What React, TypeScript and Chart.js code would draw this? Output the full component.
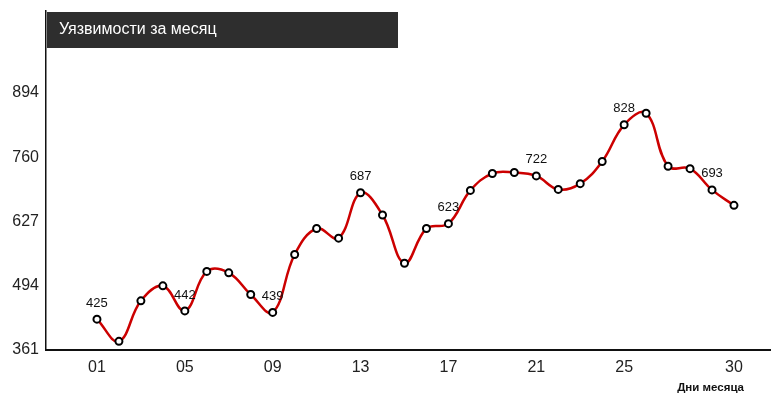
import React, { useEffect, useRef } from "react";
import { Chart, registerables } from "chart.js";

Chart.register(...registerables);

const days: number[] = [1,2,3,4,5,6,7,8,9,10,11,12,13,14,15,16,17,18,19,20,21,22,23,24,25,26,27,28,29,30];
const values: number[] = [425,379,463,494,442,524,521,476,439,559,613,593,687,641,541,613,623,692,727,729,722,694,706,752,828,852,742,737,693,661];
const labeledDays: number[] = [1,5,9,13,17,21,25,29];
const yTicks: number[] = [361,494,627,760,894];
const xTicks: number[] = [1,5,9,13,17,21,25,30];
const chartTitle = "Уязвимости за месяц";
const xAxisTitle = "Дни месяца";

const FONT = "Arial, 'Liberation Sans', sans-serif";

const decorPlugin = {
  id: "decor",
  afterDraw(chart: any) {
    const { ctx, chartArea } = chart;
    const meta = chart.getDatasetMeta(0);
    ctx.save();
    // point value labels
    ctx.font = `13px ${FONT}`;
    ctx.fillStyle = "#111";
    ctx.textAlign = "center";
    ctx.textBaseline = "middle";
    meta.data.forEach((el: any, i: number) => {
      if (labeledDays.includes(days[i])) {
        ctx.fillText(String(values[i]), el.x, el.y - 16);
      }
    });
    // title box
    const bx = chartArea.left + 1;
    const by = chartArea.top + 1;
    ctx.fillStyle = "#2e2e2e";
    ctx.fillRect(bx, by, 351, 36);
    ctx.fillStyle = "#ffffff";
    ctx.font = `16px ${FONT}`;
    ctx.textAlign = "left";
    ctx.textBaseline = "middle";
    ctx.fillText(chartTitle, bx + 12, by + 18);
    // x axis title
    ctx.fillStyle = "#111";
    ctx.font = `bold 11.5px ${FONT}`;
    ctx.textAlign = "right";
    ctx.fillText(xAxisTitle, chartArea.right - 26, 388);
    ctx.restore();
  },
};

export default function App() {
  const ref = useRef<HTMLCanvasElement | null>(null);
  useEffect(() => {
    if (!ref.current) return;
    const chart = new Chart(ref.current, {
      type: "line",
      data: {
        datasets: [
          {
            data: days.map((d, i) => ({ x: d, y: values[i] })),
            borderColor: "#cc0000",
            borderWidth: 2.5,
            tension: 0.4,
            pointRadius: 3.5,
            pointBorderWidth: 2,
            pointBackgroundColor: "#ffffff",
            pointBorderColor: "#000000",
            fill: false,
          },
        ],
      },
      options: {
        animation: false,
        responsive: false,
        maintainAspectRatio: false,
        layout: { autoPadding: false, padding: { top: 11, right: 1, left: 0, bottom: 0 } },
        plugins: { legend: { display: false }, tooltip: { enabled: false }, title: { display: false } },
        scales: {
          x: {
            type: "linear",
            min: -1.32,
            max: 31.64,
            grid: { display: false, drawTicks: false },
            border: { display: true, color: "#111", width: 2 },
            afterBuildTicks: (s: any) => {
              s.ticks = xTicks.map((v) => ({ value: v }));
            },
            afterFit: (s: any) => {
              s.height = 45;
              s.paddingLeft = 0;
              s.paddingRight = 0;
            },
            ticks: {
              autoSkip: false,
              maxRotation: 0,
              padding: 8,
              color: "#222",
              font: { family: FONT, size: 16 },
              callback: (v: any) => String(v).padStart(2, "0"),
            },
          },
          y: {
            min: 361,
            max: 1064,
            grid: { display: false, drawTicks: false },
            border: { display: true, color: "#111", width: 1.5 },
            afterBuildTicks: (s: any) => {
              s.ticks = yTicks.map((v) => ({ value: v }));
            },
            afterFit: (s: any) => {
              s.width = 46;
              s.paddingTop = 0;
              s.paddingBottom = 0;
            },
            ticks: {
              autoSkip: false,
              padding: 7,
              color: "#222",
              font: { family: FONT, size: 16 },
            },
          },
        },
      },
      plugins: [decorPlugin],
    });
    return () => chart.destroy();
  }, []);
  return (
    <div style={{ position: "absolute", left: 0, top: 0, width: 771, height: 395, background: "#fff" }}>
      <canvas ref={ref} width={771} height={395} style={{ width: 771, height: 395 }} />
    </div>
  );
}
